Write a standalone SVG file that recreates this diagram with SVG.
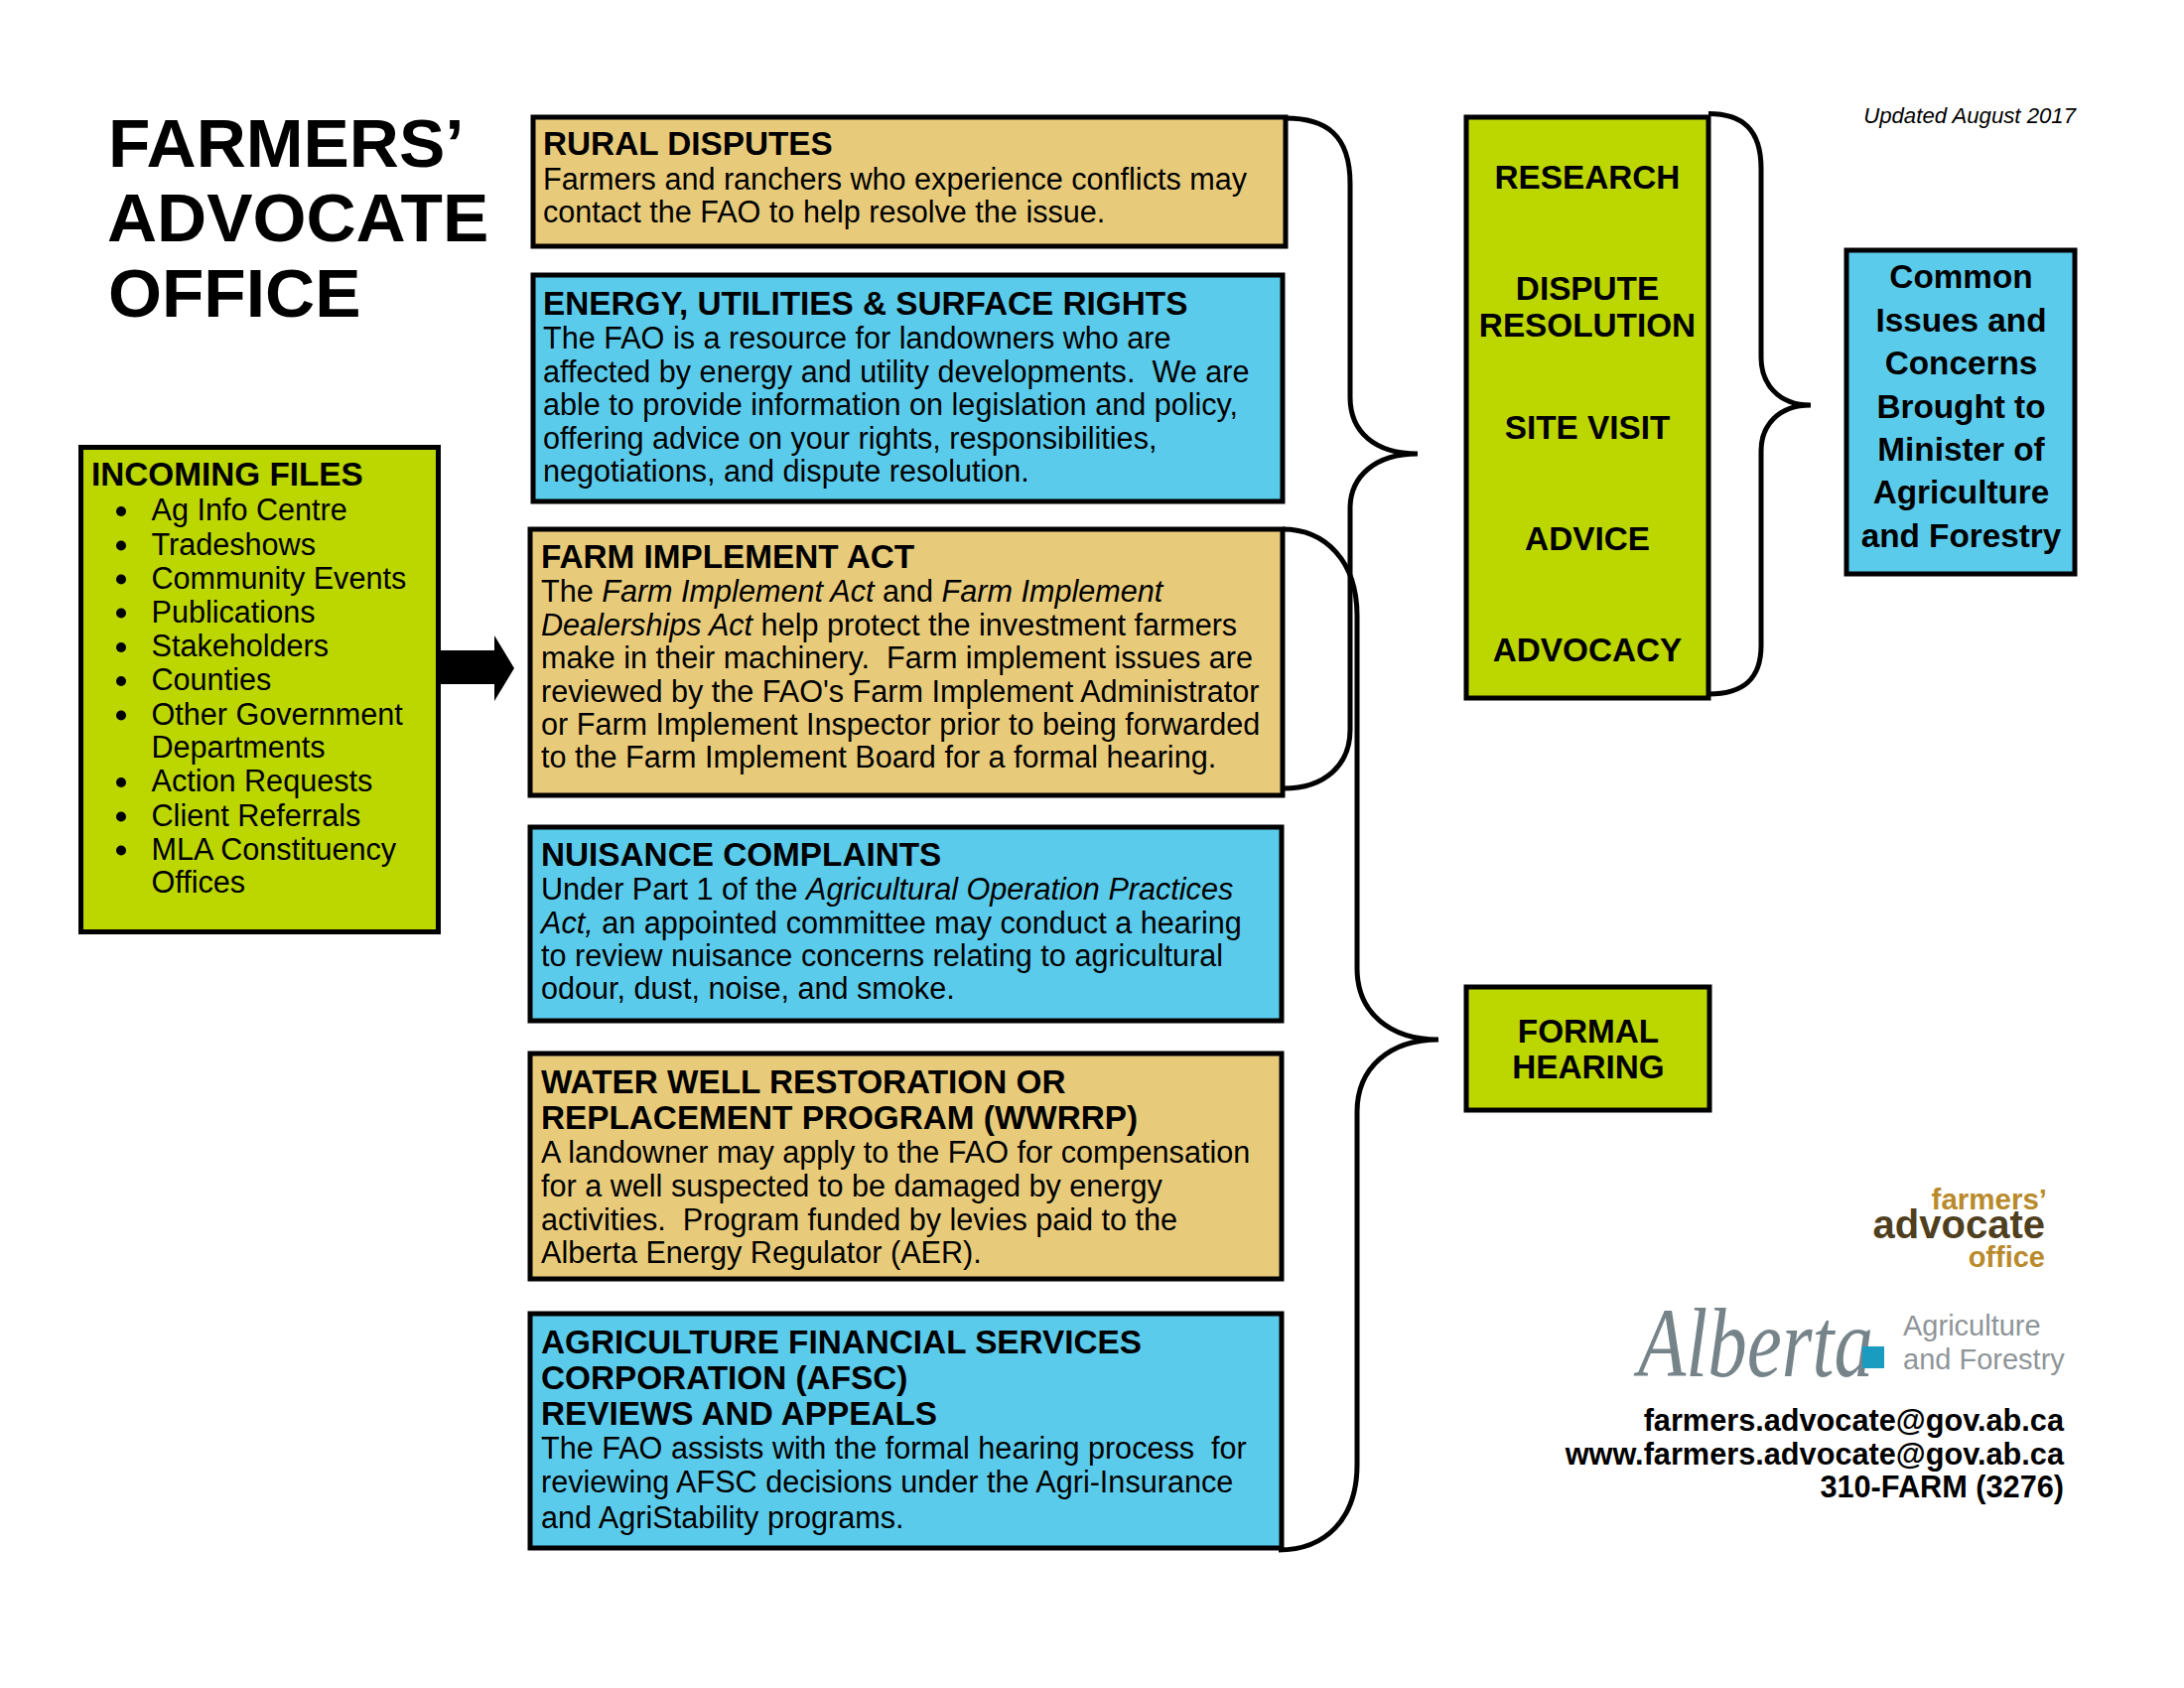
<svg xmlns="http://www.w3.org/2000/svg" width="2200" height="1700" viewBox="0 0 2200 1700">
<style>
text{font-family:"Liberation Sans",Arial,sans-serif;fill:#000;white-space:pre}
.box{stroke:#000;stroke-width:5}
.tan{fill:#E8CB7A}.blue{fill:#5BCBEB}.green{fill:#BCD600}
.h{font-size:33.3px;font-weight:bold}
.b{font-size:30.6px}
.c{font-size:33.3px;font-weight:bold;text-anchor:middle}
.t{font-size:69.4px;font-weight:bold}
.r{text-anchor:end}
.i{font-style:italic}
.br{fill:none;stroke:#000;stroke-width:5}
</style>
<rect width="2200" height="1700" fill="#fff"/>
<g id="title"><text class="t" x="109" y="168">FARMERS’</text><text class="t" x="108" y="243">ADVOCATE</text><text class="t" x="109" y="319">OFFICE</text></g>
<text id="updated" x="2091" y="124" class="r i" font-size="22.2">Updated August 2017</text>
<g id="connectors">
<path class="br" d="M1295 119C1335 119 1360 135 1360 185V400C1360 435 1385 457 1428 457C1385 457 1360 480 1360 512V735C1360 770 1335 794 1293 794"/>
<path class="br" d="M1292 533C1335 533 1367 565 1367 620V975C1367 1020 1400 1047 1449 1047C1400 1047 1367 1075 1367 1120V1475C1367 1530 1335 1561 1288 1561"/>
<path class="br" d="M1721 114.5C1755 114.5 1774 130 1774 170V360C1774 385 1790 408 1824 408C1790 408 1774 430 1774 454V650C1774 685 1755 699 1721 699"/>
<path d="M442 655H498V640L518 673L498 706V689H442Z" fill="#000"/>
</g>
<g id="incoming"><rect class="box green" x="81.5" y="450.5" width="360" height="488"/>
<text class="h" x="92" y="489">INCOMING FILES</text>
<text class="b" x="152.5" y="524">Ag Info Centre</text><text class="b" x="152.5" y="558.5">Tradeshows</text><text class="b" x="152.5" y="592.5">Community Events</text><text class="b" x="152.5" y="626.5">Publications</text><text class="b" x="152.5" y="661">Stakeholders</text><text class="b" x="152.5" y="695">Counties</text><text class="b" x="152.5" y="729.5">Other Government</text><text class="b" x="152.5" y="763">Departments</text><text class="b" x="152.5" y="797">Action Requests</text><text class="b" x="152.5" y="831.5">Client Referrals</text><text class="b" x="152.5" y="865.5">MLA Constituency</text><text class="b" x="152.5" y="899">Offices</text>
<g fill="#000"><circle cx="122" cy="515" r="5"/><circle cx="122" cy="549.5" r="5"/><circle cx="122" cy="583.5" r="5"/><circle cx="122" cy="617.5" r="5"/><circle cx="122" cy="652" r="5"/><circle cx="122" cy="686" r="5"/><circle cx="122" cy="720.5" r="5"/><circle cx="122" cy="788" r="5"/><circle cx="122" cy="822.5" r="5"/><circle cx="122" cy="856.5" r="5"/></g>
</g>
<g id="rural"><rect class="box tan" x="537" y="118" width="758" height="130"/>
<text class="h" x="547" y="156">RURAL DISPUTES</text>
<text class="b" x="547" y="190.5">Farmers and ranchers who experience conflicts may</text>
<text class="b" x="547" y="224">contact the FAO to help resolve the issue.</text></g>
<g id="energy"><rect class="box blue" x="537" y="277" width="755" height="228"/>
<text class="h" x="547" y="316.5">ENERGY, UTILITIES &amp; SURFACE RIGHTS</text>
<text class="b" x="547" y="351">The FAO is a resource for landowners who are</text>
<text class="b" x="547" y="385">affected by energy and utility developments.  We are</text>
<text class="b" x="547" y="418">able to provide information on legislation and policy,</text>
<text class="b" x="547" y="452">offering advice on your rights, responsibilities,</text>
<text class="b" x="547" y="485">negotiations, and dispute resolution.</text></g>
<g id="farm"><rect class="box tan" x="534" y="533" width="758" height="268"/>
<text class="h" x="545" y="571.5">FARM IMPLEMENT ACT</text>
<text class="b" x="545" y="606">The <tspan class="i">Farm Implement Act</tspan> and <tspan class="i">Farm Implement</tspan></text>
<text class="b" x="545" y="639.5"><tspan class="i">Dealerships Act</tspan> help protect the investment farmers</text>
<text class="b" x="545" y="672.5">make in their machinery.  Farm implement issues are</text>
<text class="b" x="545" y="706.5">reviewed by the FAO's Farm Implement Administrator</text>
<text class="b" x="545" y="740">or Farm Implement Inspector prior to being forwarded</text>
<text class="b" x="545" y="773">to the Farm Implement Board for a formal hearing.</text></g>
<g id="nuisance"><rect class="box blue" x="534" y="833" width="757" height="195"/>
<text class="h" x="545" y="871.5">NUISANCE COMPLAINTS</text>
<text class="b" x="545" y="906">Under Part 1 of the <tspan class="i">Agricultural Operation Practices</tspan></text>
<text class="b" x="545" y="939.5"><tspan class="i">Act,</tspan> an appointed committee may conduct a hearing</text>
<text class="b" x="545" y="973">to review nuisance concerns relating to agricultural</text>
<text class="b" x="545" y="1006">odour, dust, noise, and smoke.</text></g>
<g id="water"><rect class="box tan" x="534" y="1061" width="757" height="227"/>
<text class="h" x="545" y="1100.5">WATER WELL RESTORATION OR</text>
<text class="h" x="545" y="1136.5">REPLACEMENT PROGRAM (WWRRP)</text>
<text class="b" x="545" y="1171">A landowner may apply to the FAO for compensation</text>
<text class="b" x="545" y="1204.5">for a well suspected to be damaged by energy</text>
<text class="b" x="545" y="1238.5">activities.  Program funded by levies paid to the</text>
<text class="b" x="545" y="1271.5">Alberta Energy Regulator (AER).</text></g>
<g id="afsc"><rect class="box blue" x="534" y="1323" width="757" height="236"/>
<text class="h" x="545" y="1363">AGRICULTURE FINANCIAL SERVICES</text>
<text class="h" x="545" y="1399">CORPORATION (AFSC)</text>
<text class="h" x="545" y="1434.5">REVIEWS AND APPEALS</text>
<text class="b" x="545" y="1469">The FAO assists with the formal hearing process  for</text>
<text class="b" x="545" y="1503">reviewing AFSC decisions under the Agri-Insurance</text>
<text class="b" x="545" y="1539">and AgriStability programs.</text></g>
<g id="services"><rect class="box green" x="1477" y="118" width="244" height="585"/>
<text class="c" x="1599" y="190">RESEARCH</text>
<text class="c" x="1599" y="302">DISPUTE</text><text class="c" x="1599" y="339">RESOLUTION</text>
<text class="c" x="1599" y="442">SITE VISIT</text>
<text class="c" x="1599" y="554">ADVICE</text>
<text class="c" x="1599" y="666">ADVOCACY</text></g>
<g id="issues"><rect class="box blue" x="1860" y="252" width="230" height="326"/>
<text class="c" x="1975.5" y="290">Common</text><text class="c" x="1975.5" y="333.5">Issues and</text><text class="c" x="1975.5" y="377">Concerns</text><text class="c" x="1975.5" y="420.5">Brought to</text><text class="c" x="1975.5" y="464">Minister of</text><text class="c" x="1975.5" y="507">Agriculture</text><text class="c" x="1975.5" y="550.5">and Forestry</text></g>
<g id="hearing"><rect class="box green" x="1477" y="994" width="245" height="124"/>
<text class="c" x="1600" y="1050">FORMAL</text><text class="c" x="1600" y="1086">HEARING</text></g>
<g id="fao-logo">
<text class="r" x="2062" y="1218" font-size="29.5" font-weight="bold" style="fill:#B98A2C">farmers’</text>
<text class="r" x="2060" y="1247" font-size="40" font-weight="bold" style="fill:#4F3F1E">advocate</text>
<text class="r" x="2060" y="1276" font-size="29" font-weight="bold" style="fill:#B98A2C">office</text></g>
<g id="alberta-logo">
<text transform="translate(1650 1386) scale(1 1.27)" font-size="79" style="font-family:'Liberation Serif',serif;font-style:italic;fill:#76848A">Alberta</text>
<rect x="1876" y="1356" width="22" height="22" fill="#1A9CC0"/>
<text x="1917" y="1345" font-size="29" style="fill:#8F9599">Agriculture</text>
<text x="1917" y="1379" font-size="29" style="fill:#8F9599">and Forestry</text></g>
<g id="contact">
<text class="r" x="2079" y="1441" font-size="30.7" font-weight="bold">farmers.advocate@gov.ab.ca</text>
<text class="r" x="2079" y="1475" font-size="30.7" font-weight="bold">www.farmers.advocate@gov.ab.ca</text>
<text class="r" x="2079" y="1508" font-size="30.7" font-weight="bold">310-FARM (3276)</text></g>
</svg>
